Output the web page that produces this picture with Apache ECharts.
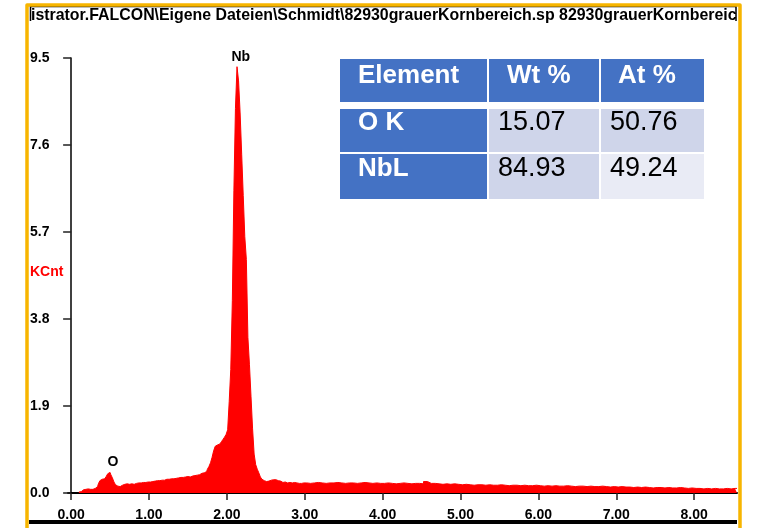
<!DOCTYPE html>
<html>
<head>
<meta charset="utf-8">
<script src="https://cdn.jsdelivr.net/npm/echarts@6/dist/echarts.min.js"></script>
<style>
  html, body { margin: 0; padding: 0; background: #ffffff; }
  #chart { width: 759px; height: 528px; }
</style>
</head>
<body>
<div id="chart"></div>
<script>
// EDS spectrum: counts in KCnt per channel.
// Low-energy channels: 0.10 .. 2.98 keV, 0.02 keV apart.
const lowStart = 0.10, lowStep = 0.02;
const lowCounts = [
  0.02, 0.03, 0.04, 0.07, 0.08, 0.07, 0.09, 0.08, 0.09, 0.08,
  0.10, 0.12, 0.14, 0.20, 0.27, 0.30, 0.31, 0.33, 0.36, 0.42,
  0.45, 0.40, 0.33, 0.24, 0.18, 0.15, 0.14, 0.15, 0.17, 0.19,
  0.19, 0.20, 0.19, 0.19, 0.20, 0.19, 0.21, 0.21, 0.22, 0.21,
  0.22, 0.23, 0.22, 0.23, 0.24, 0.23, 0.24, 0.25, 0.24, 0.26,
  0.27, 0.26, 0.27, 0.28, 0.29, 0.28, 0.30, 0.31, 0.30, 0.31,
  0.32, 0.31, 0.32, 0.33, 0.33, 0.34, 0.33, 0.34, 0.35, 0.35,
  0.36, 0.35, 0.36, 0.37, 0.38, 0.38, 0.39, 0.40, 0.42, 0.43,
  0.44, 0.45, 0.47, 0.52, 0.58, 0.66, 0.78, 0.92, 1.02, 1.05,
  1.07, 1.09, 1.12, 1.17, 1.22, 1.28, 1.38, 2.00, 2.70, 4.20,
  6.60, 8.40, 9.31, 9.00, 8.30, 7.40, 6.50, 5.60, 5.10, 3.40,
  2.80, 2.10, 1.40, 0.85, 0.62, 0.52, 0.44, 0.35, 0.30, 0.27,
  0.25, 0.25, 0.26, 0.28, 0.28, 0.29, 0.29, 0.28, 0.27, 0.26,
  0.24, 0.23, 0.24, 0.23, 0.22, 0.23, 0.22, 0.22, 0.23, 0.22,
  0.22, 0.21, 0.22, 0.21, 0.22
];
// High-energy channels: 3.00 .. 8.55 keV, 0.05 keV apart.
const highStart = 3.00, highStep = 0.05;
const highCounts = [
  0.22, 0.21, 0.22, 0.23, 0.22, 0.21, 0.22, 0.22, 0.23, 0.22,
  0.21, 0.22, 0.22, 0.21, 0.22, 0.23, 0.22, 0.21, 0.22, 0.21,
  0.21, 0.22, 0.21, 0.20, 0.21, 0.22, 0.21, 0.20, 0.21, 0.21,
  0.20, 0.25, 0.21, 0.21, 0.20, 0.19, 0.20, 0.19, 0.20, 0.19,
  0.18, 0.19, 0.18, 0.17, 0.18, 0.18, 0.17, 0.18, 0.17, 0.17,
  0.18, 0.17, 0.16, 0.17, 0.17, 0.16, 0.17, 0.16, 0.16, 0.17,
  0.16, 0.15, 0.16, 0.15, 0.16, 0.15, 0.15, 0.16, 0.15, 0.14,
  0.15, 0.15, 0.14, 0.15, 0.14, 0.14, 0.15, 0.14, 0.13, 0.14,
  0.13, 0.14, 0.13, 0.13, 0.12, 0.13, 0.12, 0.13, 0.12, 0.11,
  0.12, 0.12, 0.11, 0.12, 0.11, 0.11, 0.12, 0.11, 0.10, 0.11,
  0.10, 0.10, 0.09, 0.10, 0.09, 0.10, 0.09, 0.09, 0.10, 0.09,
  0.10, 0.10
];

// Peak identifications: [energy keV, KCnt, element]
const peakLabels = [
  [0.50, 0.45, 'O'],
  [2.14, 9.31, 'Nb']
];

// Axis tick values
const xTicks = [0, 1, 2, 3, 4, 5, 6, 7, 8];

// Quantification table
const tableHeader = ['Element', 'Wt %', 'At %'];
const tableElements = ['O K', 'NbL'];
const tableWt = ['15.07', '84.93'];
const tableAt = ['50.76', '49.24'];

const titleText = 'istrator.FALCON\\Eigene Dateien\\Schmidt\\82930grauerKornbereich.sp 82930grauerKornbereich.sp';

// Build the channel list
const spectrum = [];
lowCounts.forEach((v, i) => spectrum.push([+(lowStart + i * lowStep).toFixed(2), v]));
highCounts.forEach((v, i) => spectrum.push([+(highStart + i * highStep).toFixed(2), v]));

const FONT = '"Liberation Sans", Arial, sans-serif';
const GOLD = '#F7B500';
const BLUE = '#4472C4';

// Table layout
const colX = [340, 489, 601];
const colW = [147, 110, 103];
const rowY = [59, 109, 154];
const rowH = [43, 43, 45];
const cellFill = [
  [BLUE, BLUE, BLUE],
  [BLUE, '#CFD5EA', '#CFD5EA'],
  [BLUE, '#CFD5EA', '#E9EBF5']
];
const textX = [358, 507, 618];
const valueX = [498, 610];

const graphics = [];
for (let r = 0; r < 3; r++) {
  for (let c = 0; c < 3; c++) {
    graphics.push({
      type: 'rect', silent: true,
      shape: { x: colX[c], y: rowY[r], width: colW[c], height: rowH[r] },
      style: { fill: cellFill[r][c] }
    });
  }
}
tableHeader.forEach((t, c) => graphics.push({
  type: 'text', silent: true,
  x: textX[c], y: rowY[0] + rowH[0] / 2 - 5,
  style: { text: t, fill: '#ffffff', font: 'bold 26px ' + FONT, verticalAlign: 'middle', align: 'left' }
}));
tableElements.forEach((t, r) => {
  const cy = rowY[r + 1] + rowH[r + 1] / 2 - 8;
  graphics.push({
    type: 'text', silent: true, x: textX[0], y: cy,
    style: { text: t, fill: '#ffffff', font: 'bold 26px ' + FONT, verticalAlign: 'middle', align: 'left' }
  });
  graphics.push({
    type: 'text', silent: true, x: valueX[0], y: cy,
    style: { text: tableWt[r], fill: '#000000', font: '27px ' + FONT, verticalAlign: 'middle', align: 'left' }
  });
  graphics.push({
    type: 'text', silent: true, x: valueX[1], y: cy,
    style: { text: tableAt[r], fill: '#000000', font: '27px ' + FONT, verticalAlign: 'middle', align: 'left' }
  });
});

// Frame, title strip and bottom rule
graphics.push(
  { type: 'text', silent: true, x: 31, y: 8,
    style: { text: titleText, fill: '#000000', font: 'bold 15.9px ' + FONT,
             width: 713, overflow: 'truncate', ellipsis: '' } },
  { type: 'rect', silent: true, shape: { x: 736.5, y: 6, width: 6, height: 18 },
    style: { fill: '#ffffff' } },
  { type: 'polyline', silent: true,
    shape: { points: [[30.5, 21], [30.5, 6.5], [736, 6.5], [736, 21]] },
    style: { stroke: '#000000', lineWidth: 1.5, fill: null } },
  { type: 'rect', silent: true, shape: { x: 29, y: 520, width: 708, height: 4 },
    style: { fill: '#000000' } },
  { type: 'polyline', silent: true,
    shape: { points: [[27, 528], [27, 5], [740, 5], [740, 528]] },
    style: { stroke: GOLD, lineWidth: 3.5, fill: null, lineJoin: 'round' } },
  { type: 'text', silent: true, x: 30, y: 272,
    style: { text: 'KCnt', fill: '#FF0000', font: 'bold 14px ' + FONT, verticalAlign: 'middle' } }
);

const chart = echarts.init(document.getElementById('chart'), null, { renderer: 'canvas' });
chart.setOption({
  animation: false,
  backgroundColor: '#ffffff',
  grid: { left: 68, right: 22, top: 58, bottom: 35 },
  xAxis: {
    type: 'value', min: -0.04, max: 8.55,
    axisLine: { show: true, onZero: false, lineStyle: { color: '#000000', width: 2 } },
    axisTick: { show: true, customValues: xTicks, length: 7, lineStyle: { color: '#222222', width: 1.5 } },
    axisLabel: {
      customValues: xTicks, margin: 15,
      formatter: v => v.toFixed(2),
      color: '#000000', fontWeight: 'bold', fontSize: 14, fontFamily: FONT
    },
    splitLine: { show: false }
  },
  yAxis: {
    type: 'value', min: 0, max: 9.5, interval: 1.9,
    axisLine: { show: true, lineStyle: { color: '#000000', width: 1.5 } },
    axisTick: { show: true, length: 8, lineStyle: { color: '#222222', width: 1.5 } },
    axisLabel: {
      margin: 38, align: 'left',
      formatter: v => v.toFixed(1),
      color: '#000000', fontWeight: 'bold', fontSize: 14, fontFamily: FONT
    },
    splitLine: { show: false }
  },
  series: [
    {
      type: 'line', step: 'middle', data: spectrum,
      showSymbol: false, symbol: 'none',
      lineStyle: { color: '#FF0000', width: 1 },
      areaStyle: { color: '#FF0000', opacity: 1 },
      z: 2
    },
    {
      type: 'scatter', symbolSize: 0,
      itemStyle: { color: '#000000' },
      data: peakLabels.map(p => ({ value: [p[0], p[1]], name: p[2] })),
      label: {
        show: true, position: 'top', distance: 3, offset: [3, 0],
        formatter: p => p.name, opacity: 1,
        color: '#000000', fontWeight: 'bold', fontSize: 14, fontFamily: FONT
      },
      z: 3
    }
  ],
  graphic: graphics
});
</script>
</body>
</html>
